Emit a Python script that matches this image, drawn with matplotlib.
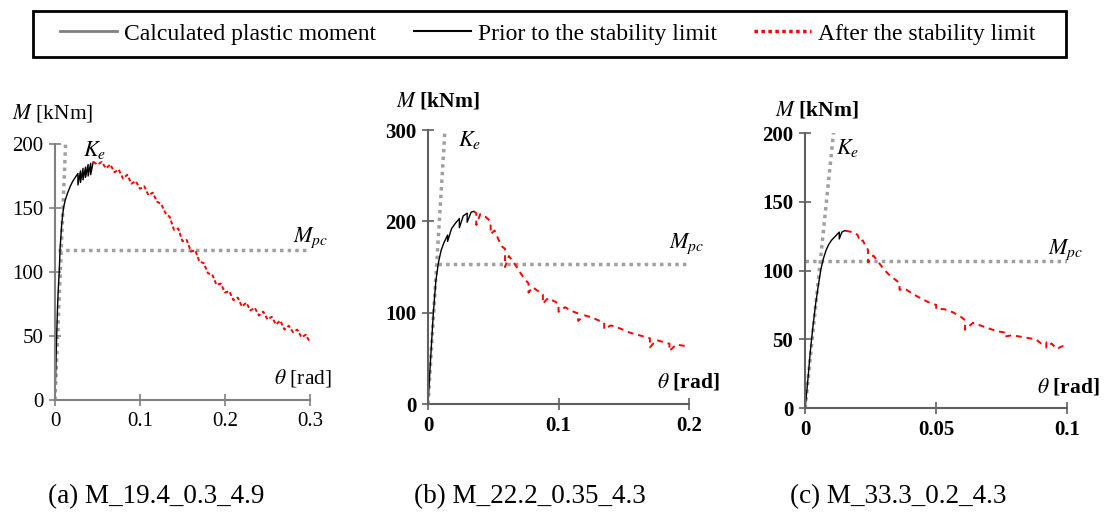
import matplotlib
matplotlib.use("Agg")
import matplotlib.pyplot as plt
from matplotlib.lines import Line2D
from matplotlib.patches import Rectangle

plt.rcParams['font.family'] = ['Liberation Serif', 'DejaVu Serif']
plt.rcParams['mathtext.fontset'] = 'stix'

# ---- (a) M_19.4_0.3_4.9 ----
a_prior_theta = [0, 0.001, 0.002, 0.003, 0.004, 0.005, 0.006, 0.008, 0.010, 0.012, 0.015, 0.018,
                 0.021, 0.024, 0.027, 0.027, 0.030, 0.030, 0.033, 0.033, 0.036, 0.036, 0.039,
                 0.039, 0.042, 0.042, 0.045]
a_prior_M = [0, 25, 50, 72, 88, 100, 118, 138, 150, 156, 162, 167, 171, 174, 177, 168, 179, 170,
             181, 172, 182, 174, 184, 175, 185, 176, 186]
a_after_theta = [0.045, 0.050, 0.055, 0.060, 0.065, 0.070, 0.075, 0.080, 0.085, 0.090, 0.095,
                 0.100, 0.105, 0.110, 0.115, 0.120, 0.125, 0.130, 0.135, 0.140, 0.145, 0.150,
                 0.155, 0.160, 0.165, 0.170, 0.175, 0.180, 0.185, 0.190, 0.195, 0.200, 0.205,
                 0.210, 0.215, 0.220, 0.225, 0.230, 0.235, 0.240, 0.245, 0.250, 0.255, 0.260,
                 0.265, 0.270, 0.275, 0.280, 0.285, 0.290, 0.295, 0.300]
a_after_M = [186, 184, 186, 181, 184, 178, 180, 173, 176, 169, 171, 165, 167, 160, 162, 155, 153,
             146, 143, 133, 134, 124, 125, 116, 117, 108, 107, 99, 98, 90, 91, 84, 85, 78, 80, 73,
             76, 70, 72, 66, 69, 63, 65, 59, 62, 55, 58, 53, 55, 49, 51, 45]
a_Ke_theta = [0, 0.0125]
a_Ke_M = [0, 200]
a_Mpc = 117
a_Mpc_range = [0.003, 0.3]

# ---- (b) M_22.2_0.35_4.3 ----
b_prior_theta = [0, 0.002, 0.004, 0.006, 0.008, 0.010, 0.012, 0.015, 0.015, 0.018, 0.021, 0.024,
                 0.024, 0.027, 0.030, 0.030, 0.033, 0.035]
b_prior_M = [0, 50, 98, 135, 155, 168, 176, 185, 178, 192, 198, 203, 193, 206, 209, 199, 210, 211]
b_after_theta = [0.035, 0.037, 0.037, 0.040, 0.044, 0.048, 0.048, 0.051, 0.054, 0.057, 0.059,
                 0.059, 0.062, 0.065, 0.068, 0.071, 0.074, 0.077, 0.077, 0.080, 0.084, 0.088,
                 0.088, 0.092, 0.096, 0.100, 0.100, 0.105, 0.110, 0.115, 0.115, 0.120, 0.125,
                 0.130, 0.135, 0.135, 0.140, 0.145, 0.150, 0.155, 0.160, 0.165, 0.170, 0.170,
                 0.175, 0.180, 0.185, 0.185, 0.190, 0.195, 0.200]
b_after_M = [211, 209, 196, 208, 205, 200, 186, 190, 180, 172, 170, 150, 162, 156, 150, 143, 137,
             132, 122, 128, 124, 120, 110, 116, 113, 110, 101, 106, 102, 99, 91, 97, 95, 92, 89,
             82, 86, 84, 81, 78, 76, 74, 72, 62, 70, 68, 66, 58, 65, 64, 63]
b_Ke_theta = [0, 0.013]
b_Ke_M = [0, 300]
b_Mpc = 153
b_Mpc_range = [0.008, 0.2]

# ---- (c) M_33.3_0.2_4.3 ----
c_prior_theta = [0, 0.001, 0.002, 0.003, 0.004, 0.005, 0.006, 0.007, 0.008, 0.009, 0.010, 0.011,
                 0.012, 0.013, 0.013, 0.014, 0.015, 0.0155]
c_prior_M = [0, 20, 42, 60, 76, 89, 101, 109, 115, 119, 122, 124, 126, 128, 123, 128, 129, 129]
c_after_theta = [0.0155, 0.018, 0.020, 0.021, 0.022, 0.023, 0.024, 0.024, 0.026, 0.028, 0.030,
                 0.032, 0.034, 0.036, 0.036, 0.038, 0.041, 0.044, 0.047, 0.050, 0.050, 0.053,
                 0.056, 0.059, 0.061, 0.061, 0.064, 0.067, 0.070, 0.073, 0.076, 0.076, 0.079,
                 0.082, 0.085, 0.088, 0.090, 0.092, 0.092, 0.094, 0.096, 0.098, 0.100]
c_after_M = [129, 128, 126, 121, 122, 118, 115, 106, 111, 106, 101, 97, 94, 91, 86, 87, 83, 80,
             77, 75, 72, 72, 70, 67, 64, 57, 62, 60, 58, 56, 55, 52, 53, 52, 51, 50, 47, 48, 44,
             47, 43, 45, 45]
c_Ke_theta = [0, 0.0108]
c_Ke_M = [0, 200]
c_Mpc = 107
c_Mpc_range = [0.0, 0.1]

captions = ["(a) M_19.4_0.3_4.9", "(b) M_22.2_0.35_4.3", "(c) M_33.3_0.2_4.3"]
legend_labels = ["Calculated plastic moment", "Prior to the stability limit",
                 "After the stability limit"]

GRAY = '#a0a0a0'

panels = [
    dict(rect=[0.0497, 0.2218, 0.2306, 0.498], prior=(a_prior_theta, a_prior_M),
         after=(a_after_theta, a_after_M), ke=(a_Ke_theta, a_Ke_M), mpc=a_Mpc, mrange=a_Mpc_range,
         xlim=0.3, xticks=[0, 0.1, 0.2, 0.3], ylim=200, yticks=[0, 50, 100, 150, 200],
         bold=False, spine='#808080', ylab=(-0.17, 1.12), tlab=(0.86, 0.086),
         ke_lab=(0.033, 195), mpc_lab=(0.28, 127), dash=(2, 1.2)),
    dict(rect=[0.387, 0.214, 0.236, 0.533], prior=(b_prior_theta, b_prior_M),
         after=(b_after_theta, b_after_M), ke=(b_Ke_theta, b_Ke_M), mpc=b_Mpc, mrange=b_Mpc_range,
         xlim=0.2, xticks=[0, 0.1, 0.2], ylim=300, yticks=[0, 100, 200, 300],
         bold=True, spine='#606060', ylab=(-0.123, 1.106), tlab=(0.877, 0.08),
         ke_lab=(0.023, 289), mpc_lab=(0.185, 176), dash=(3, 2.5)),
    dict(rect=[0.728, 0.206, 0.237, 0.535], prior=(c_prior_theta, c_prior_M),
         after=(c_after_theta, c_after_M), ke=(c_Ke_theta, c_Ke_M), mpc=c_Mpc, mrange=c_Mpc_range,
         xlim=0.1, xticks=[0, 0.05, 0.1], ylim=200, yticks=[0, 50, 100, 150, 200],
         bold=True, spine='#606060', ylab=(-0.115, 1.084), tlab=(0.885, 0.076),
         ke_lab=(0.0118, 189), mpc_lab=(0.0927, 115), dash=(3, 2.5)),
]

fig = plt.figure(figsize=(11.06, 5.14), dpi=100)

for p in panels:
    ax = fig.add_axes(p['rect'])
    ax.plot(p['ke'][0], p['ke'][1], color=GRAY, lw=2.5, linestyle=(0, (1, 1.2)))
    ax.plot(p['mrange'], [p['mpc'], p['mpc']], color=GRAY, lw=2.5, linestyle=(0, (1, 1.2)))
    ax.plot(p['prior'][0], p['prior'][1], color='black', lw=1)
    ax.plot(p['after'][0], p['after'][1], color='red', lw=1.4, linestyle=(0, p['dash']))
    ax.set_xlim(0, p['xlim'])
    ax.set_ylim(0, p['ylim'])
    ax.set_xticks(p['xticks'])
    ax.set_xticklabels([f"{t:g}" for t in p['xticks']])
    ax.set_yticks(p['yticks'])
    for s in ['top', 'right']:
        ax.spines[s].set_visible(False)
    for s in ['left', 'bottom']:
        ax.spines[s].set_color(p['spine'])
        ax.spines[s].set_linewidth(1.5)
    ax.tick_params(direction='inout', length=9, width=1.2, color=p['spine'],
                   labelsize=15, pad=4)
    fw = 'bold' if p['bold'] else 'normal'
    for lab in ax.get_xticklabels() + ax.get_yticklabels():
        lab.set_fontweight(fw)
    ax.set_facecolor('none')
    ax.text(p['ylab'][0], p['ylab'][1], r'$M$ [kNm]', transform=ax.transAxes, fontsize=15.5,
            fontweight=fw, ha='left', va='center')
    ax.text(p['tlab'][0], p['tlab'][1], r'$\theta$ [rad]', transform=ax.transAxes, fontsize=15.5,
            fontweight=fw, ha='left', va='center')
    ax.text(p['ke_lab'][0], p['ke_lab'][1], r'$K_e$', fontsize=16, ha='left', va='center')
    ax.text(p['mpc_lab'][0], p['mpc_lab'][1], r'$M_{pc}$', fontsize=16, ha='left', va='center')

for x, cap in zip([48, 414, 790], captions):
    fig.text(x / 1106, (514 - 497) / 514, cap, fontsize=19.5, ha='left', va='center')

# legend frame drawn separately so the entries can keep their natural spacing
fig.patches.append(Rectangle((33 / 1106, 1 - 57 / 514), (1066 - 33) / 1106, 46 / 514,
                             transform=fig.transFigure, fill=False, edgecolor='black', lw=2))
handles = [Line2D([], [], color='#808080', lw=2),
           Line2D([], [], color='black', lw=1.5),
           Line2D([], [], color='red', lw=2.5, linestyle=(0, (1, 1)))]
fig.legend(handles, legend_labels, loc='center', ncol=3, bbox_to_anchor=(0.4955, 0.934),
           fontsize=17, frameon=False, handlelength=2.4, handletextpad=0.3,
           columnspacing=1.6, borderaxespad=0, borderpad=0)

fig.savefig('out.png', dpi=100)
